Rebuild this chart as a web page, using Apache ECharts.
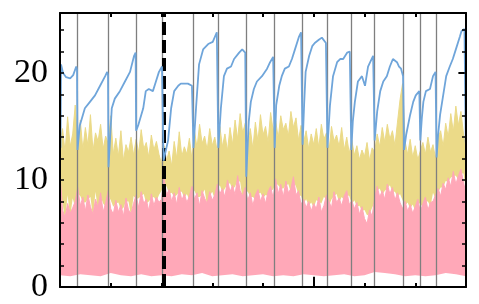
<!DOCTYPE html>
<html><head><meta charset="utf-8">
<script src="https://cdn.jsdelivr.net/npm/echarts@6/dist/echarts.min.js"></script>
<style>html,body{margin:0;padding:0;background:#fff}#c{width:479px;height:304px}</style>
</head><body><div id="c"></div>
<script>
// ---- data ----
const yTickLabels = ['0', '10', '20'];
// noise envelopes sampled every 0.05 x-units (x from 0 to 8)
const noiseStep = 0.05;
const pinkTop = [10.5,7.2,6.5,7.8,6.9,7.4,8.0,9.3,7.6,8.4,
 7.1,8.6,7.5,6.8,8.2,7.4,8.8,7.0,7.9,9.0,
 7.3,6.8,8.1,7.0,7.7,6.6,8.3,7.2,6.9,7.8,
 8.6,7.4,8.9,7.8,8.2,7.1,8.7,7.6,8.4,7.9,
 8.2,10.2,8.6,9.1,8.0,8.8,7.7,9.3,8.1,8.7,
 7.9,8.5,9.4,8.2,8.8,7.6,9.0,8.3,7.8,8.9,
 8.1,8.6,9.6,8.7,9.2,8.4,10.0,8.9,9.5,8.6,
 10.4,9.0,8.5,9.3,8.1,8.8,7.6,8.6,9.1,8.0,
 8.7,7.8,8.9,9.4,8.3,10.1,8.7,9.6,8.4,9.9,
 8.8,9.2,10.3,8.6,9.0,7.7,8.2,7.4,8.0,7.1,
 7.8,7.3,8.4,7.0,7.6,8.6,8.0,7.4,8.9,7.9,
 8.3,7.6,8.5,9.0,7.7,8.1,7.3,7.9,6.8,7.5,
 6.4,5.9,7.2,6.6,8.3,9.4,8.4,9.0,8.2,9.6,
 8.7,9.3,8.1,8.8,7.9,7.3,8.0,7.1,7.7,6.9,
 7.5,8.2,7.0,7.8,8.4,7.2,7.9,8.0,8.6,9.2,
 8.5,9.7,9.1,10.2,9.4,10.8,9.6,10.4,11.0,9.8,8.7];
const yellowTop = [13.5,14.8,12.6,15.9,13.1,14.3,17.0,13.4,15.6,12.8,
 14.9,13.2,16.1,12.7,14.4,13.6,15.2,12.9,14.1,13.4,
 16.0,12.4,13.9,12.2,14.6,11.8,13.3,12.6,14.0,12.3,
 13.8,12.5,14.7,12.9,13.5,12.1,14.2,12.8,13.6,12.4,
 11.5,13.2,11.8,12.7,11.3,13.6,12.0,14.5,12.2,13.1,
 12.4,13.9,11.9,14.6,13.0,15.2,13.4,14.1,12.8,14.8,
 13.2,14.0,12.6,15.0,13.1,14.3,12.7,14.9,13.3,15.6,
 13.8,16.2,14.4,15.3,13.2,14.8,12.9,15.4,13.6,16.1,
 14.2,15.0,13.5,16.3,14.6,15.5,13.9,16.0,14.7,15.3,
 14.1,16.4,14.9,15.8,13.7,15.1,13.5,14.6,12.9,14.3,
 13.3,14.8,13.0,15.2,13.8,14.4,12.7,15.0,13.6,14.2,
 13.1,14.9,12.8,14.0,12.5,13.7,12.3,13.2,11.9,12.8,
 12.2,13.5,11.8,13.0,12.6,14.3,13.1,14.9,13.5,15.2,
 13.8,14.6,13.2,15.4,17.5,19.0,13.6,12.4,13.8,12.1,
 13.2,11.9,12.7,13.5,12.4,14.0,12.6,13.3,12.0,13.9,
 14.6,13.1,15.3,14.0,16.2,14.5,16.9,15.1,16.4,14.3,12.8];
const yellowBottom = [9.0,7.9,6.2,8.6,6.5,8.3,7.4,8.7,8.5,7.9,
 7.9,8.2,8.4,6.5,8.9,7.0,8.5,7.8,7.5,8.6,
 8.1,7.5,7.8,7.9,7.2,7.4,8.0,8.0,6.6,8.5,
 8.2,8.3,8.5,8.7,7.8,8.0,8.3,8.4,8.0,8.6,
 9.0,9.6,9.4,8.7,8.8,8.4,8.6,8.9,8.9,8.3,
 8.7,8.1,9.0,9.0,8.4,8.4,8.6,9.1,7.5,8.5,
 8.9,8.2,9.2,9.5,8.8,9.2,9.6,9.7,9.1,9.4,
 10.0,9.8,8.1,9.0,8.9,8.4,8.4,8.2,8.7,8.8,
 8.3,8.6,8.5,9.0,9.1,9.7,9.5,9.2,9.2,9.5,
 9.6,8.8,9.9,9.4,8.6,8.5,7.8,8.2,7.6,7.9,
 7.4,8.1,8.0,7.8,8.4,8.2,7.6,8.2,8.5,8.7,
 7.9,8.4,8.1,8.6,8.5,7.7,8.1,7.5,7.6,7.1,
 7.2,6.7,6.8,7.4,7.9,9.0,9.2,8.6,9.0,9.2,
 9.5,8.9,8.9,8.4,8.7,8.1,7.6,7.9,7.3,7.7,
 7.1,7.8,7.8,7.4,8.0,8.0,7.5,8.8,8.2,8.8,
 9.3,9.3,9.9,9.8,10.2,10.4,10.4,10.0,10.6,10.6,9.0];
// pink lower edge, every 0.2 x-units
const pinkBottomStep = 0.2;
const pinkBottom = [1.1,1.0,1.2,1.1,1.0,1.3,1.1,1.0,1.2,1.0,
 1.1,1.0,1.2,1.1,1.3,1.0,1.1,1.2,1.0,1.1,
 1.2,1.0,1.1,1.0,1.2,1.1,1.0,1.1,1.2,1.0,
 1.1,1.4,1.3,1.2,1.0,1.1,1.0,1.1,1.3,1.2,1.0];
// blue sawtooth line
const blueX = [0.01,0.02,0.06,0.12,0.20,0.26,0.32,0.335,0.345,
 0.39,0.49,0.59,0.69,0.79,0.89,0.93,0.946,0.956,
 1.02,1.08,1.18,1.28,1.38,1.46,1.49,1.50,
 1.54,1.64,1.69,1.75,1.83,1.89,1.95,2.01,2.04,
 2.13,2.19,2.25,2.33,2.38,2.52,2.60,2.63,
 2.68,2.74,2.82,2.92,3.01,3.09,3.12,
 3.17,3.23,3.29,3.37,3.43,3.53,3.59,3.65,3.67,
 3.72,3.76,3.82,3.88,3.98,4.08,4.14,4.20,4.23,
 4.26,4.32,4.37,4.43,4.51,4.57,4.63,4.71,4.75,4.78,
 4.81,4.84,4.91,4.97,5.02,5.10,5.16,5.24,5.27,
 5.32,5.38,5.46,5.52,5.58,5.66,5.71,5.74,
 5.77,5.81,5.87,5.95,6.01,6.07,6.17,6.20,
 6.25,6.31,6.37,6.44,6.50,6.56,6.64,6.68,6.72,6.76,6.78,
 6.82,6.90,6.96,7.01,7.08,7.10,
 7.13,7.16,7.21,7.29,7.35,7.40,7.42,
 7.45,7.49,7.55,7.61,7.68,7.74,7.80,7.88,7.91,7.97,7.995];
const blueY = [13.0,20.8,20.0,19.6,19.5,19.8,20.6,20.3,12.8,
 15.1,16.7,17.3,17.9,18.8,19.7,20.1,19.8,11.2,
 16.7,17.6,18.3,19.2,20.1,21.6,21.9,14.6,
 15.1,16.7,18.3,18.5,18.3,19.2,20.1,20.6,11.8,
 13.7,16.7,18.3,18.8,19.0,19.0,18.8,13.0,
 16.7,20.8,22.2,22.7,22.9,23.8,13.0,
 16.7,19.7,20.4,20.6,21.3,21.9,22.2,21.9,10.3,
 15.5,17.3,18.5,19.2,19.7,20.4,21.0,21.5,13.0,
 17.0,18.8,19.7,20.4,20.6,21.3,22.2,23.4,23.8,13.3,
 17.0,20.1,21.6,22.5,22.8,23.1,23.3,22.8,13.0,
 17.0,19.7,21.0,21.3,21.3,21.9,22.0,12.8,
 15.5,17.3,19.2,19.7,18.8,20.6,21.6,13.7,
 16.4,18.3,19.2,19.7,20.6,21.3,21.0,20.6,20.4,19.7,12.8,
 14.2,16.1,17.3,17.9,18.3,13.7,
 15.8,17.3,18.3,18.5,19.7,20.1,12.1,
 14.2,16.1,17.9,19.7,20.6,21.3,22.2,23.4,23.9,24.1,13.5];
// segment boundaries (vertical gray lines) and the dashed marker
const boundaries = [0.335,0.946,1.50,2.01,2.62,3.11,3.67,4.22,4.77,5.26,5.73,6.19,6.76,7.09,7.41];
const dashedAt = 2.04;

// ---- chart ----
const FONT = 'Liberation Serif';
const BLUE = '#6fa5da', YELLOW = '#ebda88', PINK = '#ffa8b8';
const pairs = (arr, step) => arr.map((v, i) => [+(i * step).toFixed(3), v]);

function xAx(pos) {
  return {type:'value', min:0, max:8, interval:1, position:pos, z:10,
    axisLine:{show:true, onZero:false, lineStyle:{color:'#000', width:2}},
    axisTick:{show:true, inside:true, length:4, lineStyle:{color:'#000', width:2}},
    axisLabel:{show:false}, splitLine:{show:false}};
}
function yAx(pos, showLabel) {
  return {type:'value', min:0, max:25.6, interval:2, position:pos, z:10,
    axisLine:{show:true, onZero:false, lineStyle:{color:'#000', width:2}},
    axisTick:{show:true, inside:true, length:4, lineStyle:{color:'#000', width:1.5}},
    axisLabel:{show:showLabel, margin:12, fontFamily:FONT, fontSize:34, color:'#000',
      formatter: v => yTickLabels.includes(String(v)) ? String(v) : ''},
    splitLine:{show:false}};
}
const area = (data, color, z, lw) => ({type:'line', data, symbol:'none', z, silent:true,
  lineStyle:{color, width:lw}, areaStyle:{color, opacity:1}, itemStyle:{color}});

const markData = boundaries.map(b => ({xAxis:b, lineStyle:{color:'#7f7f7f', width:1.3, type:'solid'}}));
markData.push({xAxis:dashedAt, lineStyle:{color:'#000', width:4, type:[13,5]}});
markData.push([{coord:[5,0], lineStyle:{color:'#000', width:2, type:'solid'}}, {coord:[5,0.95]}]);
markData.push([{coord:[8,20], lineStyle:{color:'#000', width:2, type:'solid'}}, {coord:[7.85,20]}]);

const chart = echarts.init(document.getElementById('c'), null, {renderer:'canvas'});
chart.setOption({
  animation:false,
  backgroundColor:'#fff',
  grid:{left:60, right:13, top:13, bottom:12, containLabel:false},
  xAxis:[xAx('bottom'), xAx('top')],
  yAxis:[yAx('left', true), yAx('right', false)],
  series:[
    area(pairs(yellowTop, noiseStep), YELLOW, 1, 1),
    area(pairs(yellowBottom, noiseStep), '#ffffff', 2, 0),
    area(pairs(pinkTop, noiseStep), PINK, 3, 1),
    area(pairs(pinkBottom, pinkBottomStep), '#ffffff', 4, 0),
    {type:'line', data: blueX.map((x, i) => [x, blueY[i]]), symbol:'none', z:5, silent:true,
      lineStyle:{color:BLUE, width:1.8}},
    {type:'line', data:[], z:6, silent:true, symbol:'none',
      markLine:{silent:true, symbol:'none', label:{show:false}, animation:false, data:markData}}
  ]
});
</script></body></html>
